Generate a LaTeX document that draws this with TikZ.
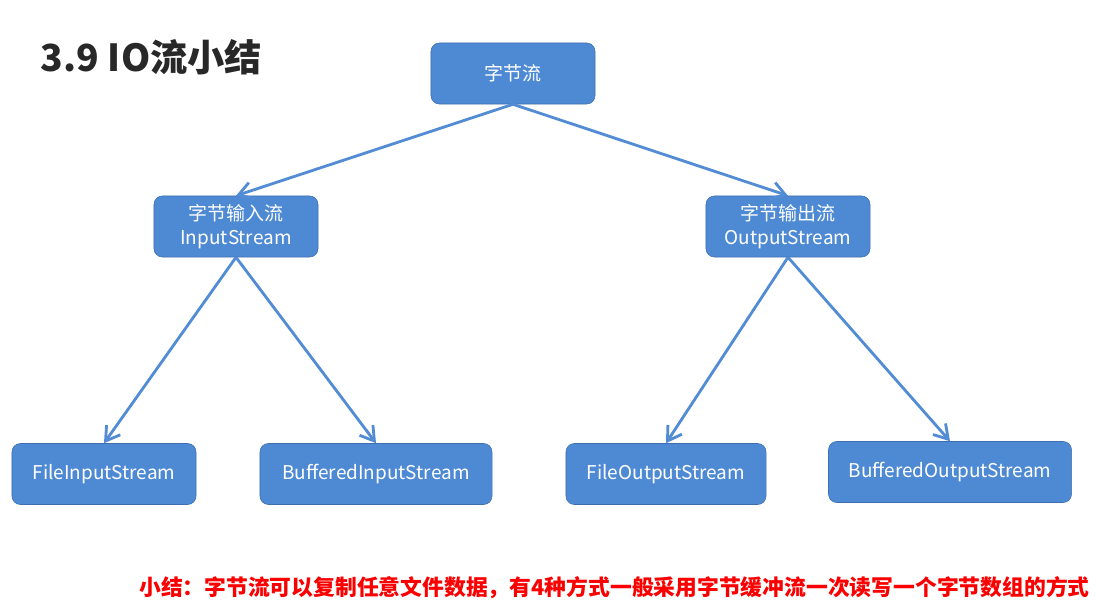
\documentclass[tikz,border=0pt]{standalone}
\usepackage{fontspec}
\setmainfont{Noto Sans CJK SC}
\usetikzlibrary{arrows.meta}
\definecolor{boxblue}{RGB}{78,138,212}
\definecolor{boxedge}{RGB}{62,110,176}
\definecolor{lineblue}{RGB}{82,140,212}
\definecolor{notered}{RGB}{250,0,0}
\definecolor{titlegray}{RGB}{40,40,40}

\begin{document}
\begin{tikzpicture}[
    x=0.025cm, y=-0.025cm,
    every node/.style={font=\fontsize{13.5}{17}\selectfont},
    streambox/.style={
        rectangle,
        rounded corners=6pt,
        draw=boxedge,
        thin,
        align=center,
        inner sep=0pt,
        minimum width=4.1cm,
        minimum height=1.525cm,
        text=white,
        fill=boxblue
    },
    arrow/.style={-{Straight Barb[length=3.4mm,width=4.2mm]}, line width=2pt, draw=lineblue}
]
\useasboundingbox[fill=white] (0,0) rectangle (1098,603);

\node[anchor=west, font=\fontsize{26.5}{30}\selectfont\bfseries, text=titlegray] (title) at (36,57) {3.9 IO流小结};

\node[streambox] (bytes) at (513,73.5) {字节流};
\node[streambox] (input) at (236,226.5) {字节输入流\\InputStream};
\node[streambox] (output) at (788,226.5) {字节输出流\\OutputStream};

\node[streambox, minimum width=4.6cm] (fin) at (104,474) {FileInputStream};
\node[streambox, minimum width=5.8cm] (bin) at (376,474) {BufferedInputStream};
\node[streambox, minimum width=5cm] (fout) at (666,474) {FileOutputStream};
\node[streambox, minimum width=6.075cm] (bout) at (950,472) {BufferedOutputStream};

\draw[arrow] (bytes.south) -- (input.north);
\draw[arrow] (bytes.south) -- (output.north);
\draw[arrow] (input.south) -- (fin.north);
\draw[arrow] (input.south) -- (bin.north);
\draw[arrow] (output.south) -- (fout.north);
\draw[arrow] (output.south) -- (bout.north);

\node[anchor=east, font=\fontsize{15.5}{19}\selectfont\bfseries, text=notered, inner sep=0pt] (summary) at (1090,588) {小结：字节流可以复制任意文件数据，有4种方式一般采用字节缓冲流一次读写一个字节数组的方式};

\end{tikzpicture}
\end{document}
